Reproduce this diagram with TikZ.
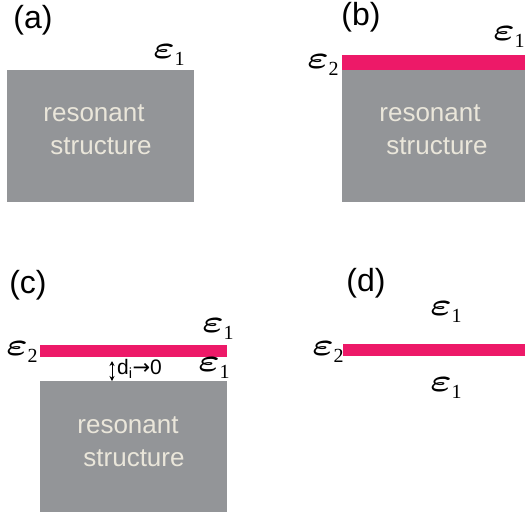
\RequirePackage{fix-cm}
\documentclass[tikz,border=0pt]{standalone}
\usepackage{amsmath}
\usepackage{fontspec}
\setmainfont{Liberation Sans}
\newfontfamily\arrowfont{DejaVu Sans}
\usetikzlibrary{arrows.meta}
\definecolor{grayblock}{HTML}{939598}
\definecolor{pinklayer}{HTML}{ED1968}
\definecolor{textbeige}{HTML}{EAE6DA}
\tikzset{
  block/.style={fill=grayblock, inner sep=0, outer sep=0, anchor=north west},
  layer/.style={fill=pinklayer, inner sep=0, outer sep=0, anchor=north west},
  panel/.style={font=\fontsize{32}{36}\selectfont, inner sep=0},
  blocktext/.style={text=textbeige, font=\fontsize{26}{30}\selectfont, inner sep=0},
  epslabel/.style={inner sep=0, font=\fontsize{30}{30}\selectfont},
  gaplabel/.style={inner sep=0, font=\fontsize{21}{24}\selectfont, anchor=west},
}
\newcommand\epsl[1]{\scalebox{1.35}[1.05]{$\boldsymbol{\varepsilon}$}\raisebox{-0.22em}{\fontsize{20}{20}\selectfont\rmfamily\fontspec{Liberation Serif}#1}}
\begin{document}
\begin{tikzpicture}[x=1pt,y=-1pt]
\useasboundingbox (0,0) rectangle (525,512);
% (a)
\node[panel] (la) at (33,20) {(a)};
\node[block, minimum width=187pt, minimum height=132pt] (blockA) at (7,70) {};
\node[blocktext] (ta1) at (94,113) {resonant};
\node[blocktext] (ta2) at (101,146) {structure};
\node[epslabel] (ea1) at (169,55) {\epsl{1}};
% (b)
\node[panel] (lb) at (361,17) {(b)};
\node[layer, minimum width=183pt, minimum height=15pt] (layerB) at (342,55) {};
\node[block, minimum width=183pt, minimum height=132pt] (blockB) at (342,70) {};
\node[blocktext] (tb1) at (430,113) {resonant};
\node[blocktext] (tb2) at (437,146) {structure};
\node[epslabel] (eb1) at (509,37) {\epsl{1}};
\node[epslabel] (eb2) at (323,65) {\epsl{2}};
% (c)
\node[panel] (lc) at (28,285) {(c)};
\node[layer, minimum width=187pt, minimum height=12pt] (layerC) at (40,345) {};
\node[block, minimum width=187pt, minimum height=131pt] (blockC) at (40,381) {};
\node[blocktext] (tc1) at (128,425) {resonant};
\node[blocktext] (tc2) at (134,458) {structure};
\node[epslabel] (ec1) at (218,329) {\epsl{1}};
\node[epslabel] (ec2) at (22,352) {\epsl{2}};
\node[epslabel] (ec3) at (214,368) {\epsl{1}};
\coordinate (gtop) at (112,361);
\coordinate (gbot) at (112,381);
\draw[{Stealth[length=5pt,width=5pt]}-{Stealth[length=5pt,width=5pt]}, line width=0.9pt] (gtop) -- (gbot);
\node[gaplabel] (gap) at (117,369) {d\textsubscript{i}{\arrowfont →}0};
% (d)
\node[panel] (ld) at (366,283) {(d)};
\node[layer, minimum width=182pt, minimum height=12pt] (layerD) at (343,344) {};
\node[epslabel] (ed1) at (446,312) {\epsl{1}};
\node[epslabel] (ed2) at (328,352) {\epsl{2}};
\node[epslabel] (ed3) at (446,388) {\epsl{1}};
\end{tikzpicture}
\end{document}
